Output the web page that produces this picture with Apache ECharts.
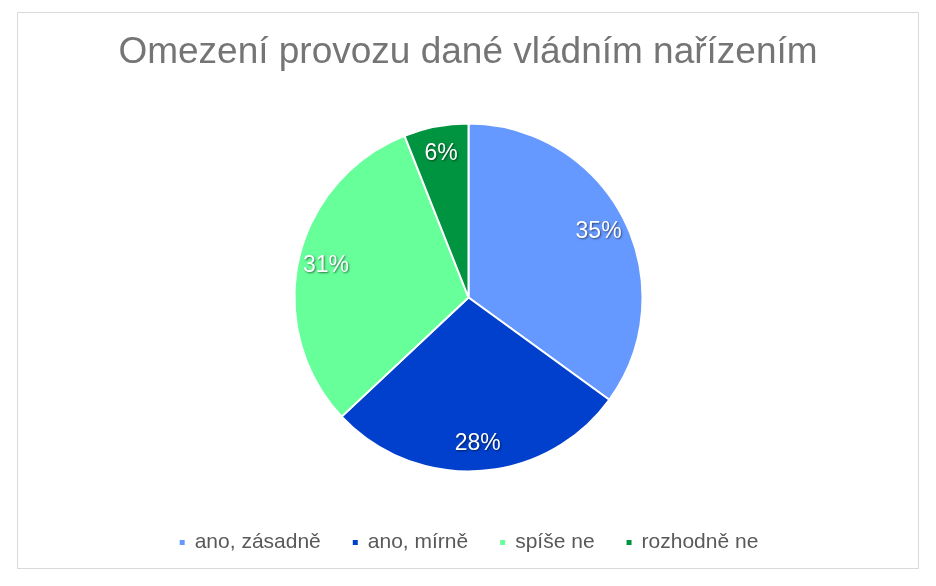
<!DOCTYPE html>
<html><head><meta charset="utf-8">
<script src="https://cdn.jsdelivr.net/npm/echarts@6/dist/echarts.min.js"></script>
<style>html,body{margin:0;padding:0;background:#fff}#c{width:936px;height:586px}</style>
</head><body><div id="c"></div>
<script>
const categories = ["ano, zásadně", "ano, mírně", "spíše ne", "rozhodně ne"];
const values = [35, 28, 31, 6];
const colors = ["#6699FF", "#0040CC", "#66FF99", "#009440"];
const titleText = "Omezení provozu dané vládním nařízením";

const chart = echarts.init(document.getElementById('c'));
const data = categories.map((n, i) => ({ name: n, value: values[i], itemStyle: { color: colors[i] } }));
chart.setOption({
  animation: false,
  graphic: [{ type: 'rect', shape: { x: 17.5, y: 12.5, width: 901, height: 556 }, style: { fill: 'none', stroke: '#d9d9d9', lineWidth: 1 }, z: -1 }],
  title: { text: titleText, left: 'center', top: 29, textStyle: { fontFamily: 'Liberation Sans', fontSize: 37, fontWeight: 'normal', color: '#757575' } },
  legend: {
    top: 527, left: 'center', itemWidth: 7, itemHeight: 7, itemGap: 30, icon: 'rect',
    data: categories,
    textStyle: { fontFamily: 'Liberation Sans', fontSize: 21, color: '#595959', padding: [0, 0, 0, 4] }
  },
  series: [{
    type: 'pie', center: [468.5, 297.5], radius: [0, 174], startAngle: 90, clockwise: true,
    label: { show: false }, labelLine: { show: false },
    itemStyle: { borderColor: '#fff', borderWidth: 2 },
    data: data
  }, {
    type: 'pie', center: [468.5, 297.5], radius: [112, 174], startAngle: 90, clockwise: true, silent: true,
    legendHoverLink: false,
    label: { show: true, position: 'inside', formatter: '{c}%', fontFamily: 'Liberation Sans', fontSize: 23, color: '#fff',
      textShadowColor: 'rgba(0,0,0,0.55)', textShadowBlur: 2, textShadowOffsetX: 1, textShadowOffsetY: 1 },
    labelLine: { show: false },
    itemStyle: { color: 'rgba(0,0,0,0)' },
    data: categories.map((n, i) => ({ name: n + ' ', value: values[i] }))
  }]
});
</script></body></html>
